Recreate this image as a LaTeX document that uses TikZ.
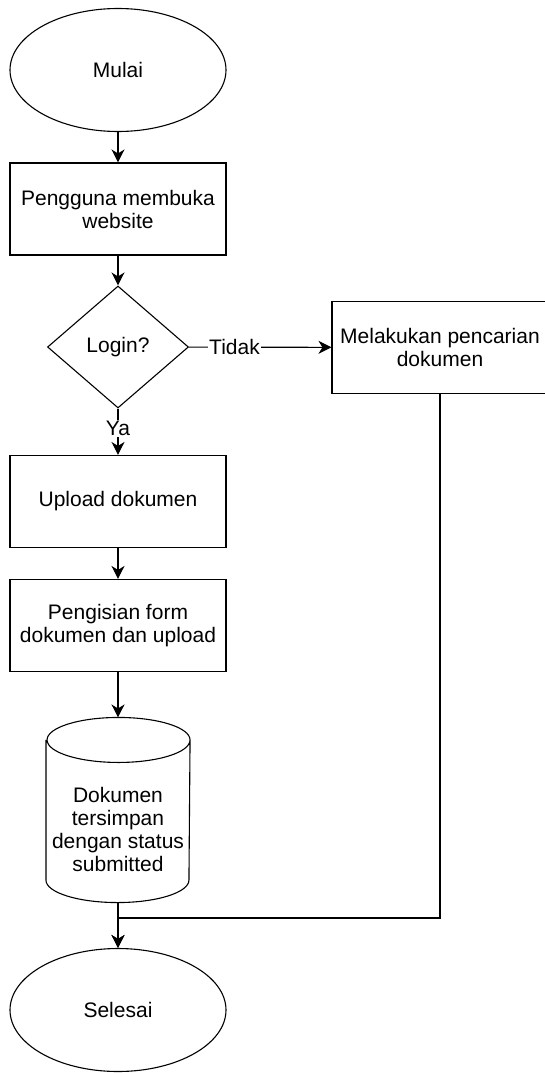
\documentclass[tikz,border=0pt]{standalone}
\usepackage{fontspec}
\setmainfont{Liberation Sans}
\usetikzlibrary{shapes.geometric,arrows.meta}
\tikzset{every node/.append style={font=\fontsize{21}{23}\selectfont,align=center}}
\tikzset{
  terminal/.style={draw,ellipse,minimum width=216pt,minimum height=123pt,inner sep=0pt},
  process/.style={draw,rectangle,minimum width=216pt,minimum height=92pt,inner sep=0pt},
  decision/.style={draw,diamond,minimum width=141pt,minimum height=122pt,inner sep=0pt},
  storage/.style={rectangle,minimum width=143pt,minimum height=184pt,inner sep=0pt,text height=124pt},
  flow/.style={-{Stealth[length=13pt,width=13pt,inset=4pt]}},
  edgelabel/.style={fill=white,inner sep=1pt}
}

\begin{document}
\begin{tikzpicture}[x=1pt,y=-1pt,line width=1.1pt]
  \useasboundingbox (0,0) rectangle (545,1073);

  \node[terminal] (mulai) at (118,70) {Mulai};
  \node[process] (buka) at (118,209) {Pengguna membuka\\website};
  \node[decision] (login) at (118,347) {Login?};
  \node[process] (cari) at (440,347.5) {Melakukan pencarian\\dokumen};
  \node[process] (upload) at (118,501.5) {Upload dokumen};
  \node[process] (isi) at (118,625.5) {Pengisian form\\dokumen dan upload};
  \node[storage] (simpan) at (118,810) {Dokumen\\tersimpan\\dengan status\\submitted};
  \node[terminal] (selesai) at (118,1010) {Selesai};
  \coordinate (gabung) at (118,918);

  % cylinder outline
  \draw ([yshift=-22.5pt]simpan.north west) -- ([yshift=22.5pt]simpan.south west)
    arc[start angle=180,end angle=360,x radius=71.5pt,y radius=22.5pt]
    -- ([yshift=-22.5pt]simpan.north east)
    arc[start angle=0,end angle=180,x radius=71.5pt,y radius=22.5pt]
    arc[start angle=180,end angle=360,x radius=71.5pt,y radius=22.5pt];

  \draw[flow] (mulai) -- (buka);
  \draw[flow] (buka) -- (login);
  \draw[flow] (login) -- node[edgelabel,pos=0.32] {Tidak} (cari);
  \draw[flow] (login) -- node[edgelabel,pos=0.43] {Ya} (upload);
  \draw[flow] (upload) -- (isi);
  \draw[flow] (isi) -- (simpan);
  \draw[flow] (simpan) -- (selesai);
  \draw[flow] (cari) |- (gabung) -- (selesai);
\end{tikzpicture}
\end{document}
